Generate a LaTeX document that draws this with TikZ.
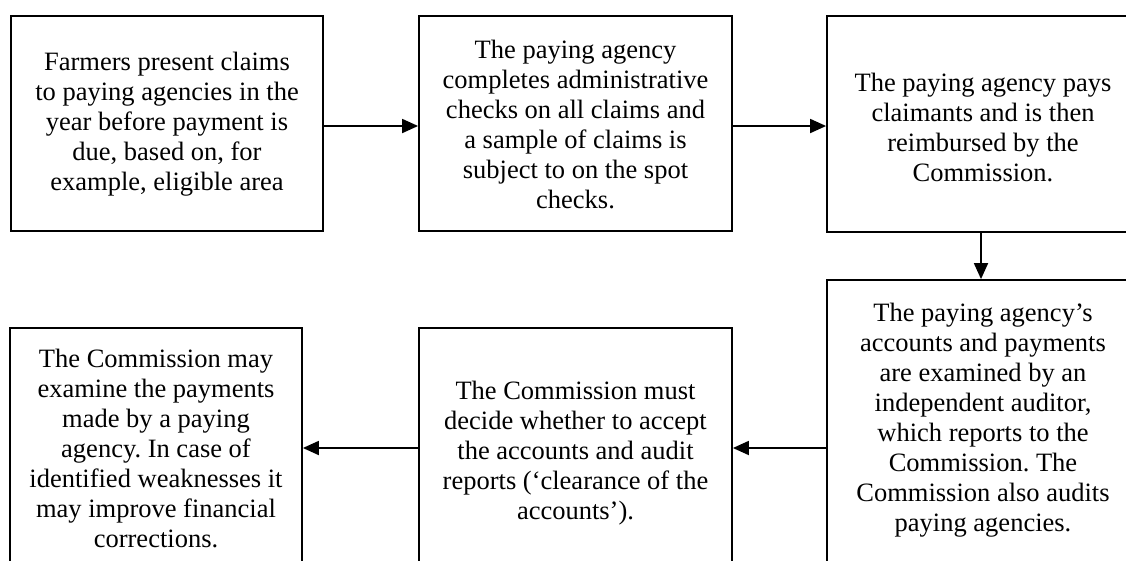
\documentclass[tikz,border=0pt]{standalone}
\usepackage{fontspec}
\setmainfont{Liberation Serif}
\usetikzlibrary{arrows.meta}
\frenchspacing
\tikzset{
  stagebox/.style={draw=black, line width=1.8pt, rectangle, inner sep=0pt},
  stagetext/.style={align=center, inner sep=0pt,
    font=\fontsize{26.5pt}{30pt}\selectfont},
  flow/.style={line width=1.8pt, -{Triangle[length=16pt,width=14pt]}}
}
% box from its corners (x1,y1) and (x2,y2) in pixel units, y down
\newcommand{\stage}[5]{%
  \node[stagebox, minimum width={(#4)-(#2)}, minimum height={(#5)-(#3)}]
    (#1) at ({((#2)+(#4))/2},{((#3)+(#5))/2}) {};}
\begin{document}
\begin{tikzpicture}[x=1pt, y=-1pt]
\useasboundingbox (0,0) rectangle (1126,560);
\clip (0,0) rectangle (1126,560);

% boxes
\stage{b1}{11}{16}{323}{231}
\stage{b2}{419}{16}{732}{231}
\stage{b3}{827}{16}{1135}{232}
\stage{b4}{827}{280}{1135}{590}
\stage{b5}{419}{328}{732}{590}
\stage{b6}{10}{328}{302}{590}

% texts
\node[stagetext] (t1) at (167,124) {Farmers present claims\\to paying agencies in the\\year before payment is\\due, based on, for\\example, eligible area};
\node[stagetext] (t2) at (575.5,124) {The paying agency\\completes administrative\\checks on all claims and\\a sample of claims is\\subject to on the spot\\checks.};
\node[stagetext] (t3) at (983,127) {The paying agency pays\\claimants and is then\\reimbursed by the\\Commission.};
\node[stagetext] (t4) at (983,420) {The paying agency’s\\accounts and payments\\are examined by an\\independent auditor,\\which reports to the\\Commission. The\\Commission also audits\\paying agencies.};
\node[stagetext] (t5) at (575.5,453) {The Commission must\\decide whether to accept\\the accounts and audit\\reports (‘clearance of the\\accounts’).};
\node[stagetext] (t6) at (156,448) {The Commission may\\examine the payments\\made by a paying\\agency. In case of\\identified weaknesses it\\may improve financial\\corrections.};

% connector levels
\coordinate (row1) at (0,126);
\coordinate (row2) at (0,448);

% connectors
\draw[flow] (b1.east |- row1) -- (b2.west |- row1);
\draw[flow] (b2.east |- row1) -- (b3.west |- row1);
\draw[flow] (b3.south) -- (b4.north);
\draw[flow] (b4.west |- row2) -- (b5.east |- row2);
\draw[flow] (b5.west |- row2) -- (b6.east |- row2);
\end{tikzpicture}
\end{document}
